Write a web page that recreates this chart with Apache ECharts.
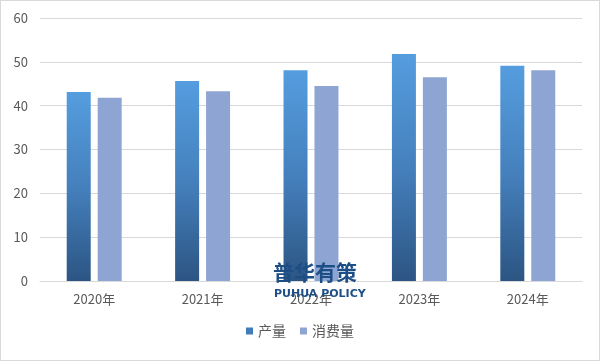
<!DOCTYPE html>
<html><head><meta charset="utf-8">
<script src="https://cdn.jsdelivr.net/npm/echarts@6/dist/echarts.min.js"></script>
<style>html,body{margin:0;padding:0;background:#fff}#c{width:600px;height:361px;box-sizing:border-box;border:1px solid #d9d9d9}</style>
</head><body><div id="c"></div>
<script>
const categories = ['2020年','2021年','2022年','2023年','2024年'];
const production = [43.1, 45.6, 48.1, 51.8, 49.1];
const consumption = [41.8, 43.3, 44.5, 46.5, 48.1];
const seriesNames = ['产量','消费量'];
const chart = echarts.init(document.getElementById('c'));
const font = '"Microsoft YaHei","Noto Sans CJK SC","DejaVu Sans",sans-serif';
chart.setOption({
  animation:false,
  textStyle:{fontFamily:font},
  grid:{left:39,right:17,top:17,bottom:79},
  legend:{bottom:17,left:'center',itemWidth:7,itemHeight:7,itemGap:14,
    textStyle:{color:'#595959',fontSize:14,fontFamily:font},
    data:[{name:seriesNames[0],icon:'rect',itemStyle:{color:'#3f7cb8'}},{name:seriesNames[1],icon:'rect'}]},
  xAxis:{type:'category',data:categories,
    axisLine:{lineStyle:{color:'#d9d9d9'}},axisTick:{show:false},
    axisLabel:{color:'#595959',fontSize:13,margin:12}},
  yAxis:{type:'value',min:0,max:60,interval:10,
    axisLine:{show:false},axisTick:{show:false},
    splitLine:{lineStyle:{color:'#d9d9d9'}},
    axisLabel:{color:'#595959',fontSize:13,margin:12}},
  series:[
    {name:seriesNames[0],type:'bar',data:production,barWidth:24,barGap:'29%',
     itemStyle:{color:new echarts.graphic.LinearGradient(0,0,0,1,[{offset:0,color:'#559ddf'},{offset:0.5,color:'#4580bd'},{offset:1,color:'#2c5583'}])}},
    {name:seriesNames[1],type:'bar',data:consumption,barWidth:24,
     itemStyle:{color:'#8ea4d3'}}
  ],
  graphic:[
    {type:'text',left:272,top:261,z:100,style:{text:'普华有策',fill:'#1d4f86',font:'bold 21px '+font}},
    {type:'text',left:273,top:288,z:100,style:{text:'PUHUA POLICY',fill:'#1d4f86',font:'bold 11px "DejaVu Sans",sans-serif'}}
  ]
});
</script></body></html>
